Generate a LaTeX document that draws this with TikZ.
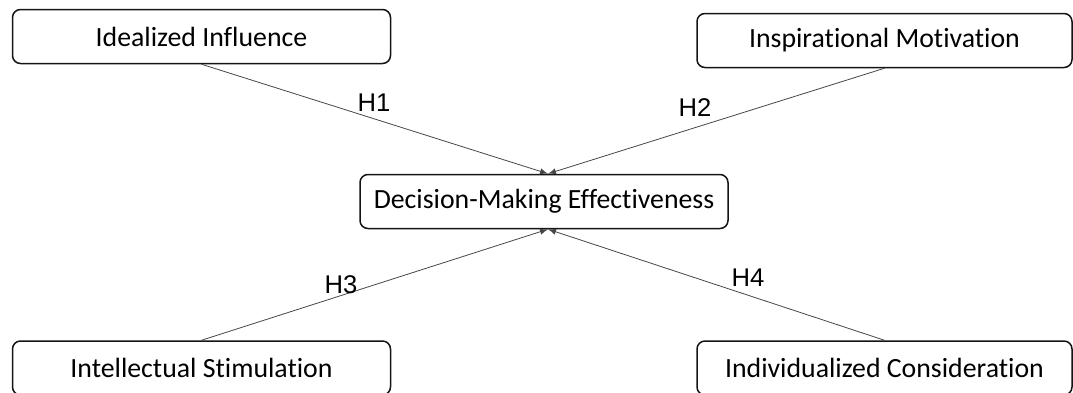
\documentclass[tikz,border=0pt]{standalone}
\usepackage{fontspec}
\setmainfont{Carlito}[Ligatures={NoCommon,NoRare,NoContextual}]
\newfontfamily\hfont{Liberation Sans}
\usepackage{tikz}
\usetikzlibrary{arrows}
\definecolor{boxblack}{RGB}{20,20,20}
\definecolor{linegray}{RGB}{70,70,70}

\begin{document}
\begin{tikzpicture}[x=0.5pt, y=-0.5pt,
    factor/.style={draw=boxblack, line width=0.75pt, rounded corners=4pt, inner sep=0pt,
      minimum width=189pt, minimum height=27pt, font=\fontsize{13.9}{16}\selectfont},
    hyp/.style={-latex, linegray, line width=0.4pt},
    hlabel/.style={font=\hfont\fontsize{12.8}{14}\selectfont, text=black}]
  \useasboundingbox (0,0) rectangle (1073,392);
  \node[factor] (ii) at (201.5,36.5) {Idealized Influence};
  \node[factor, minimum width=187.5pt] (im) at (884.5,40.5) {Inspirational Motivation};
  \node[factor, minimum width=184pt] (dme) at (544,201.5) {Decision-Making Effectiveness};
  \node[factor] (is) at (201.5,368) {Intellectual Stimulation};
  \node[factor, minimum width=187.5pt] (ic) at (884.5,368) {Individualized Consideration};
  \draw[hyp] (ii.south) -- ([xshift=2pt]dme.north);
  \draw[hyp] (im.south) -- ([xshift=2pt]dme.north);
  \draw[hyp] (is.north) -- ([xshift=2pt]dme.south);
  \draw[hyp] (ic.north) -- ([xshift=2pt]dme.south);
  \node[hlabel] (h1) at (374,103) {H1};
  \node[hlabel] (h2) at (695,108) {H2};
  \node[hlabel] (h3) at (341,285) {H3};
  \node[hlabel] (h4) at (748,278) {H4};
\end{tikzpicture}
\end{document}
